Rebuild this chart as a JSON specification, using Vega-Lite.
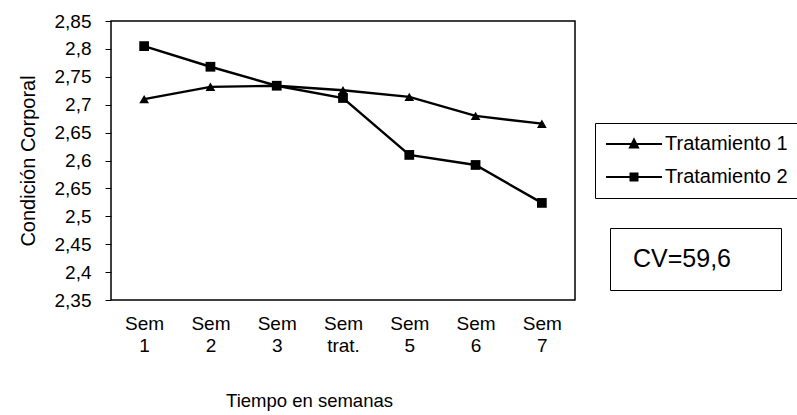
{
  "$schema": "https://vega.github.io/schema/vega-lite/v6.json",
  "width": 464,
  "height": 279,
  "autosize": {"type": "none"},
  "padding": {"left": 111, "top": 21, "right": 222, "bottom": 115},
  "background": "white",
  "config": {
    "font": "Liberation Sans",
    "view": {"stroke": "black", "strokeWidth": 1.5},
    "axis": {"grid": false, "labelColor": "black", "titleColor": "black", "titleFontWeight": "normal"}
  },
  "datasets": {
    "puntos": [
      {"semana": "Sem 1", "serie": "Tratamiento 1", "valor": 2.71},
      {"semana": "Sem 2", "serie": "Tratamiento 1", "valor": 2.732},
      {"semana": "Sem 3", "serie": "Tratamiento 1", "valor": 2.734},
      {"semana": "Sem trat.", "serie": "Tratamiento 1", "valor": 2.726},
      {"semana": "Sem 5", "serie": "Tratamiento 1", "valor": 2.714},
      {"semana": "Sem 6", "serie": "Tratamiento 1", "valor": 2.68},
      {"semana": "Sem 7", "serie": "Tratamiento 1", "valor": 2.666},
      {"semana": "Sem 1", "serie": "Tratamiento 2", "valor": 2.805},
      {"semana": "Sem 2", "serie": "Tratamiento 2", "valor": 2.768},
      {"semana": "Sem 3", "serie": "Tratamiento 2", "valor": 2.734},
      {"semana": "Sem trat.", "serie": "Tratamiento 2", "valor": 2.712},
      {"semana": "Sem 5", "serie": "Tratamiento 2", "valor": 2.61},
      {"semana": "Sem 6", "serie": "Tratamiento 2", "valor": 2.592},
      {"semana": "Sem 7", "serie": "Tratamiento 2", "valor": 2.524}
    ],
    "nota": [{"cv": "CV=59,6"}]
  },
  "layer": [
    {
      "data": {"name": "puntos"},
      "mark": {"type": "line", "color": "black", "strokeWidth": 2.4},
      "encoding": {
        "x": {
          "field": "semana",
          "type": "nominal",
          "sort": null,
          "scale": {"domain": ["Sem 1", "Sem 2", "Sem 3", "Sem trat.", "Sem 5", "Sem 6", "Sem 7"], "paddingInner": 0, "paddingOuter": 0},
          "axis": {
            "title": "Tiempo en semanas",
            "labelAngle": 0,
            "labelExpr": "split(datum.label, ' ')",
            "labelFontSize": 19,
            "labelLineHeight": 22,
            "labelPadding": 14,
            "ticks": false,
            "domain": false,
            "titleFontSize": 18.5,
            "titlePadding": 36,
            "titleX": 198,
            "titleAlign": "center"
          }
        },
        "y": {
          "field": "valor",
          "type": "quantitative",
          "scale": {"domain": [2.35, 2.85], "zero": false, "nice": false},
          "axis": {
            "title": "Condición Corporal",
            "values": [2.35, 2.4, 2.45, 2.5, 2.55, 2.6, 2.65, 2.7, 2.75, 2.8, 2.85],
            "tickCount": 20,
            "labelExpr": "datum.value == 2.55 ? '2,65' : replace(format(datum.value, '.2~f'), '.', ',')",
            "labelOverlap": false,
            "labelFontSize": 19,
            "labelPadding": 14,
            "tickSize": 6,
            "tickColor": "black",
            "domain": false,
            "titleFontSize": 20,
            "titlePadding": 16
          }
        },
        "detail": {"field": "serie"}
      }
    },
    {
      "data": {"name": "puntos"},
      "mark": {"type": "point", "filled": true, "color": "black", "size": 95, "opacity": 1},
      "encoding": {
        "x": {"field": "semana", "type": "nominal", "sort": null},
        "y": {"field": "valor", "type": "quantitative"},
        "shape": {
          "field": "serie",
          "scale": {"domain": ["Tratamiento 1", "Tratamiento 2"], "range": ["triangle-up", "square"]},
          "legend": null
        }
      }
    },
    {
      "data": {"name": "puntos"},
      "transform": [{"filter": "false"}],
      "mark": {"type": "point", "filled": true, "color": "black", "stroke": "black", "strokeWidth": 2, "opacity": 1},
      "encoding": {
        "shape": {
          "field": "serie",
          "scale": {
            "domain": ["Tratamiento 1", "Tratamiento 2"],
            "range": [
              "M-2,0H9.2M2.8,0.7L3.6,-0.9L4.4,0.7Z",
              "M-2,0H9.2M2.9,-0.7H4.3V0.7H2.9Z"
            ]
          },
          "legend": {
            "title": null,
            "orient": "none",
            "legendX": 484,
            "legendY": 102,
            "padding": 11,
            "strokeColor": "black",
            "fillColor": "white",
            "labelFontSize": 20,
            "labelColor": "black",
            "labelLimit": 300,
            "symbolSize": 100,
            "symbolStrokeWidth": 2,
            "labelOffset": 39,
            "rowPadding": 13
          }
        }
      }
    },
    {
      "data": {"name": "nota"},
      "transform": [{"filter": "false"}],
      "mark": {"type": "point", "filled": true},
      "encoding": {
        "color": {
          "field": "cv",
          "type": "nominal",
          "scale": {"domain": ["CV=59,6"], "range": ["white"]},
          "legend": {
            "title": "\u00a0",
            "titleOrient": "right",
            "titleFontSize": 8,
            "titlePadding": 32,
            "orient": "none",
            "legendX": 499,
            "legendY": 207,
            "padding": 18,
            "strokeColor": "black",
            "fillColor": "white",
            "labelFontSize": 25,
            "labelColor": "black",
            "symbolSize": 0,
            "symbolStrokeWidth": 0,
            "labelOffset": -20
          }
        }
      }
    }
  ],
  "resolve": {"scale": {"shape": "independent"}}
}
